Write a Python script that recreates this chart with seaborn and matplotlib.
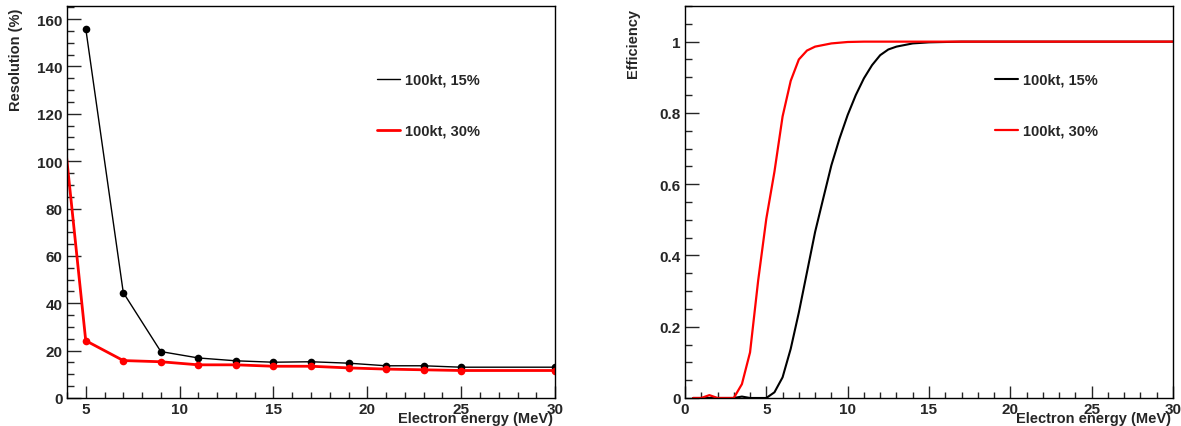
import numpy as np
import pandas as pd
import seaborn as sns
import matplotlib.pyplot as plt
from matplotlib.lines import Line2D
from matplotlib.ticker import MultipleLocator

# Left panel - energy resolution vs electron energy
res_energy_15 = [5, 7, 9, 11, 13, 15, 17, 19, 21, 23, 25, 30]
res_15 = [156, 44.5, 19.6, 16.9, 15.7, 15.1, 15.3, 14.7, 13.6, 13.6, 13.0, 13.0]
res_energy_30 = [3, 5, 7, 9, 11, 13, 15, 17, 19, 21, 23, 25, 30]
res_30 = [176, 24.2, 15.8, 15.3, 14.0, 14.0, 13.4, 13.4, 12.7, 12.2, 11.9, 11.6, 11.6]

# Right panel - efficiency vs electron energy
eff_energy_15 = [0.5, 1, 1.5, 2, 2.5, 3, 3.5, 4, 4.5, 5, 5.5, 6, 6.5, 7, 7.5, 8, 8.5, 9, 9.5,
                 10, 10.5, 11, 11.5, 12, 12.5, 13, 14, 15, 16, 17, 30]
eff_15 = [0, 0, 0, 0, 0, 0, 0.004, 0, 0, 0, 0.016, 0.058, 0.138, 0.24, 0.353, 0.466, 0.56,
          0.653, 0.728, 0.794, 0.85, 0.897, 0.934, 0.962, 0.978, 0.986, 0.995, 0.998, 0.999,
          1.0, 1.0]
eff_energy_30 = [0.5, 1, 1.5, 2, 2.5, 3, 3.5, 4, 4.5, 5, 5.5, 6, 6.5, 7, 7.5, 8, 9, 10, 11, 30]
eff_30 = [0, 0, 0.008, 0, 0, 0, 0.039, 0.128, 0.33, 0.503, 0.635, 0.79, 0.89, 0.95, 0.975,
          0.986, 0.995, 0.999, 1.0, 1.0]

labels = ['100kt, 15%', '100kt, 30%']

sns.set_style("ticks")
plt.rcParams['font.family'] = ['Liberation Sans', 'DejaVu Sans']
plt.rcParams['font.weight'] = 'bold'
plt.rcParams['axes.labelweight'] = 'bold'
plt.rcParams['axes.linewidth'] = 1.0
plt.rcParams['axes.edgecolor'] = 'black'

fs = 10.5

fig = plt.figure(figsize=(11.81, 4.27), dpi=100)
ax1 = fig.add_axes([0.0567, 0.0656, 0.4133, 0.918])
ax2 = fig.add_axes([0.580, 0.0656, 0.4132, 0.918])

# resolution
sns.lineplot(x=res_energy_15, y=res_15, color='black', lw=1.0, marker='o', markersize=5.5,
             markeredgewidth=0, ax=ax1)
sns.lineplot(x=res_energy_30, y=res_30, color='red', lw=2.0, marker='o', markersize=5.5,
             markeredgewidth=0, ax=ax1)
ax1.set_xlim(4, 30)
ax1.set_ylim(0, 165.5)
ax1.xaxis.set_major_locator(MultipleLocator(5))
ax1.xaxis.set_minor_locator(MultipleLocator(1))
ax1.yaxis.set_major_locator(MultipleLocator(20))
ax1.yaxis.set_minor_locator(MultipleLocator(5))
ax1.set_ylabel('Resolution (%)', loc='top', fontsize=fs)
ax1.yaxis.set_label_coords(-0.090, 0.995)

# efficiency
sns.lineplot(x=eff_energy_15, y=eff_15, color='black', lw=1.5, ax=ax2)
sns.lineplot(x=eff_energy_30, y=eff_30, color='red', lw=1.6, ax=ax2)
ax2.set_xlim(0, 30)
ax2.set_ylim(0, 1.1)
ax2.xaxis.set_major_locator(MultipleLocator(5))
ax2.xaxis.set_minor_locator(MultipleLocator(1))
ax2.yaxis.set_minor_locator(MultipleLocator(0.05))
ax2.set_yticks([0, 0.2, 0.4, 0.6, 0.8, 1.0])
ax2.set_yticklabels(['0', '0.2', '0.4', '0.6', '0.8', '1'])
ax2.set_ylabel('Efficiency', loc='top', fontsize=fs)
ax2.yaxis.set_label_coords(-0.092, 0.995)

legend_widths = {ax1: [1.0, 2.0], ax2: [1.5, 1.6]}
for ax in (ax1, ax2):
    ax.set_xlabel('Electron energy (MeV)', loc='right', fontsize=fs)
    ax.xaxis.set_label_coords(0.995, -0.033)
    ax.xaxis.label.set_va('top')
    ax.tick_params(which='major', direction='in', length=10, width=1, labelsize=11, pad=3)
    ax.tick_params(which='minor', direction='in', length=5, width=1)
    ax.tick_params(axis='x', which='major', length=8.5)
    ax.tick_params(axis='x', which='minor', length=4.3)
    for lab in ax.get_xticklabels() + ax.get_yticklabels():
        lab.set_fontweight('bold')
    for sp in ax.spines.values():
        sp.set_visible(True)
        sp.set_color('black')
    handles = [Line2D([], [], color=c, lw=w) for c, w in zip(['black', 'red'], legend_widths[ax])]
    ax.legend(handles, labels, loc='upper left', bbox_to_anchor=(0.635, 0.83), frameon=False,
              handlelength=1.6, handletextpad=0.35, labelspacing=2.55, borderpad=0,
              borderaxespad=0, prop={'weight': 'bold', 'size': fs})

fig.savefig('out.png', dpi=100)
